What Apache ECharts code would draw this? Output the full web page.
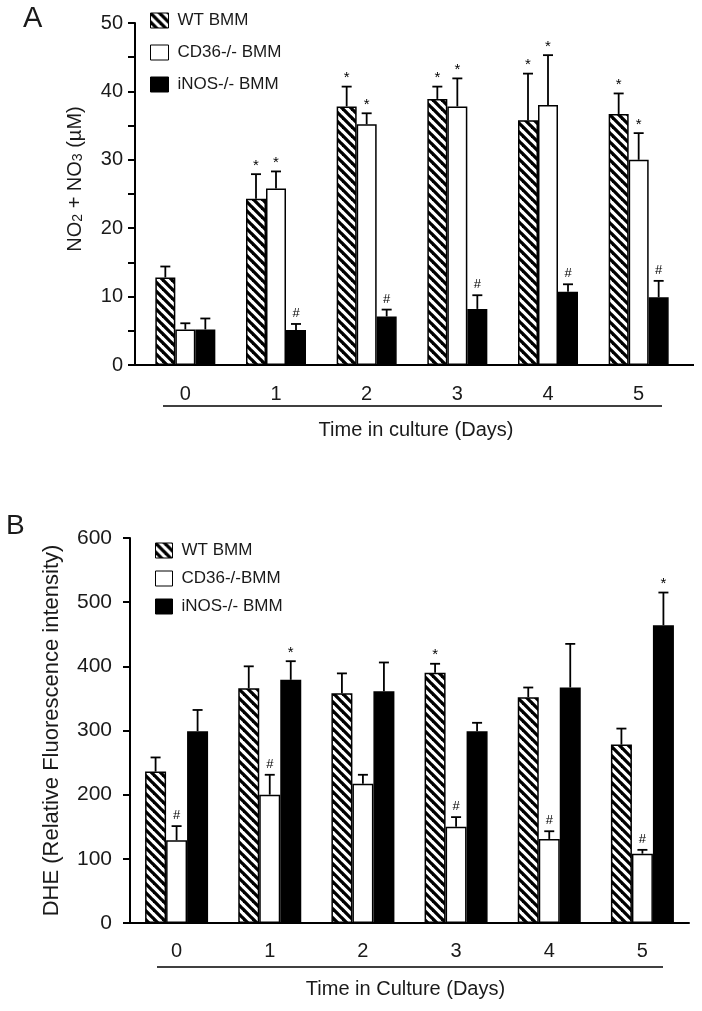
<!DOCTYPE html>
<html>
<head>
<meta charset="utf-8">
<script src="https://cdn.jsdelivr.net/npm/echarts@6/dist/echarts.min.js"></script>
<style>
  html, body { margin: 0; padding: 0; background: #fff; }
  #chart { width: 702px; height: 1011px; }
</style>
</head>
<body>
<div id="chart"></div>
<script>
// ---------- DATA ----------
const categories = ['0', '1', '2', '3', '4', '5'];
const seriesNamesA = ['WT BMM', 'CD36-/- BMM', 'iNOS-/- BMM'];
const seriesNamesB = ['WT BMM', 'CD36-/-BMM', 'iNOS-/- BMM'];

// Panel A: NO2 + NO3 (µM)
const A_wt = [12.8, 24.3, 37.8, 38.9, 35.8, 36.7];
const A_wt_err = [1.6, 3.6, 2.9, 1.8, 6.8, 3.0];
const A_cd36 = [5.2, 25.8, 35.2, 37.8, 38.0, 30.0];
const A_cd36_err = [0.9, 2.5, 1.6, 4.1, 7.3, 3.9];
const A_inos = [5.2, 5.1, 7.1, 8.2, 10.7, 9.9];
const A_inos_err = [1.6, 0.9, 1.0, 2.0, 1.1, 2.4];
const A_wt_sig = ['', '*', '*', '*', '*', '*'];
const A_cd36_sig = ['', '*', '*', '*', '*', '*'];
const A_inos_sig = ['', '#', '#', '#', '#', '#'];
const A_ticks = [0, 10, 20, 30, 40, 50];

// Panel B: DHE (Relative Fluorescence intensity)
const B_wt = [236, 366, 358, 390, 352, 278];
const B_wt_err = [22, 34, 31, 14, 15, 25];
const B_cd36 = [129, 200, 217, 150, 131, 108];
const B_cd36_err = [22, 31, 14, 15, 12, 6];
const B_inos = [299, 379, 361, 299, 367, 464];
const B_inos_err = [33, 29, 45, 13, 68, 51];
const B_wt_sig = ['', '', '', '*', '', ''];
const B_cd36_sig = ['#', '#', '', '#', '#', '#'];
const B_inos_sig = ['', '*', '', '', '', '*'];
const B_ticks = [0, 100, 200, 300, 400, 500, 600];

// ---------- STYLE / LAYOUT ----------
const FONT = '"Liberation Sans", Arial, sans-serif';
const TXT = '#1a1a1a';
const GA = { left: 140, top: 23, width: 544, height: 342 };
const GB = { left: 130, top: 538, width: 559, height: 385 };
const BW_A = 20, BW_B = 21;

function hatch() {
  const s = 9;
  const c = document.createElement('canvas');
  c.width = s; c.height = s;
  const ctx = c.getContext('2d');
  ctx.fillStyle = '#fff';
  ctx.fillRect(0, 0, s, s);
  ctx.strokeStyle = '#000';
  ctx.lineWidth = 3.3;
  for (let k = -1; k <= 1; k++) {
    ctx.beginPath();
    ctx.moveTo(k * s - 2, -2);
    ctx.lineTo(k * s + s + 2, s + 2);
    ctx.stroke();
  }
  return { image: c, repeat: 'repeat' };
}
const HATCH = hatch();
const fills = [HATCH, '#ffffff', '#000000'];

function barSeries(name, data, xi, bw, fill) {
  return {
    type: 'bar', name: name, xAxisIndex: xi, yAxisIndex: xi,
    data: data, barWidth: bw, barGap: '0%',
    itemStyle: { color: fill, borderColor: '#000', borderWidth: 1.5 },
    emphasis: { disabled: true }, z: 2
  };
}

function errSeries(vals, errs, sigs, xi, pos, bw) {
  return {
    type: 'custom', xAxisIndex: xi, yAxisIndex: xi, z: 3,
    data: vals.map((v, i) => [i, v, errs[i]]),
    renderItem: function (params, api) {
      const cat = api.value(0), v = api.value(1), e = api.value(2);
      const base = api.coord([cat, v]);
      const top = api.coord([cat, v + e]);
      const x = base[0] + (pos - 1) * bw;
      const children = [
        { type: 'line', shape: { x1: x, y1: base[1], x2: x, y2: top[1] },
          style: { stroke: '#000', lineWidth: 1.8 } },
        { type: 'line', shape: { x1: x - 5, y1: top[1], x2: x + 5, y2: top[1] },
          style: { stroke: '#000', lineWidth: 1.8 } }
      ];
      const s = sigs[params.dataIndex];
      if (s) {
        children.push({ type: 'text', x: x, y: top[1] - (s === '#' ? 4 : 1),
          style: { text: s, fill: '#000', font: (s === '#' ? '13px ' : '15px ') + FONT,
            textAlign: 'center', textVerticalAlign: 'bottom' } });
      }
      return { type: 'group', children: children };
    }
  };
}

const chart = echarts.init(document.getElementById('chart'), null, { renderer: 'canvas' });

const option = {
  backgroundColor: '#fff',
  animation: false,
  textStyle: { fontFamily: FONT, color: TXT },
  grid: [
    { left: GA.left, top: GA.top, width: GA.width, height: GA.height },
    { left: GB.left, top: GB.top, width: GB.width, height: GB.height }
  ],
  legend: [
    { data: seriesNamesA, orient: 'vertical', left: 150, top: 12, padding: 0, itemWidth: 18, itemHeight: 15,
      itemGap: 15, icon: 'rect', selectedMode: false,
      itemStyle: { borderColor: '#000', borderWidth: 1 },
      textStyle: { fontSize: 17, color: TXT, fontFamily: FONT, padding: [0, 0, 0, 4] } },
    { data: seriesNamesB, orient: 'vertical', left: 155, top: 542, padding: 0, itemWidth: 17, itemHeight: 15,
      itemGap: 11, icon: 'rect', selectedMode: false,
      itemStyle: { borderColor: '#000', borderWidth: 1 },
      textStyle: { fontSize: 17, color: TXT, fontFamily: FONT, padding: [0, 0, 0, 4] } }
  ],
  xAxis: [
    { type: 'category', gridIndex: 0, data: categories,
      axisLine: { lineStyle: { color: '#000', width: 2 } }, axisTick: { show: false },
      axisLabel: { fontSize: 20, color: TXT, margin: 19, fontFamily: FONT },
      name: 'Time in culture (Days)', nameLocation: 'middle', nameGap: 55,
      nameTextStyle: { fontSize: 20, color: TXT, fontFamily: FONT, padding: [0, 0, 0, 8] } },
    { type: 'category', gridIndex: 1, data: categories,
      axisLine: { lineStyle: { color: '#000', width: 2 } }, axisTick: { show: false },
      axisLabel: { fontSize: 20, color: TXT, margin: 18, fontFamily: FONT },
      name: 'Time in Culture (Days)', nameLocation: 'middle', nameGap: 56,
      nameTextStyle: { fontSize: 20, color: TXT, fontFamily: FONT, padding: [0, 8, 0, 0] } }
  ],
  yAxis: [
    { type: 'value', gridIndex: 0, min: 0, max: 50, interval: 5, offset: 5,
      axisLine: { show: true, lineStyle: { color: '#000', width: 2 } },
      axisTick: { show: true, length: 7, lineStyle: { color: '#000', width: 2 } },
      splitLine: { show: false },
      axisLabel: { fontSize: 20, color: TXT, margin: 12, fontFamily: FONT,
        formatter: v => (A_ticks.indexOf(v) >= 0 ? String(v) : '') },
      name: '{a|NO}{s|2}{a| + NO}{s|3}{a| (µM)}', nameLocation: 'middle', nameGap: 50,
      nameTextStyle: { padding: [0, 0, 0, 30],
        rich: {
          a: { fontSize: 20, color: TXT, fontFamily: FONT, lineHeight: 20, verticalAlign: 'top' },
          s: { fontSize: 14, color: TXT, fontFamily: FONT, lineHeight: 14, verticalAlign: 'bottom', padding: [9, 0, 0, 0] }
        } } },
    { type: 'value', gridIndex: 1, min: 0, max: 600, interval: 100,
      axisLine: { show: true, lineStyle: { color: '#000', width: 2 } },
      axisTick: { show: true, length: 7, lineStyle: { color: '#000', width: 2 } },
      splitLine: { show: false },
      axisLabel: { fontSize: 21, color: TXT, margin: 18, fontFamily: FONT,
        formatter: v => (B_ticks.indexOf(v) >= 0 ? String(v) : '') },
      name: 'DHE (Relative Fluorescence intensity)', nameLocation: 'middle', nameGap: 67,
      nameTextStyle: { fontSize: 22, color: TXT, fontFamily: FONT } }
  ],
  graphic: [
    { type: 'text', left: 23, top: 4, style: { text: 'A', font: '29px ' + FONT, fill: TXT } },
    { type: 'text', left: 6, top: 512, style: { text: 'B', font: '28px ' + FONT, fill: TXT } },
    // baseline of panel A extends beyond the plot band
    { type: 'line', shape: { x1: GA.left - 5, y1: GA.top + GA.height, x2: 694, y2: GA.top + GA.height },
      style: { stroke: '#000', lineWidth: 2 }, z: 10 },
    // bracket lines under the day labels
    { type: 'line', shape: { x1: 163, y1: 406, x2: 662, y2: 406 }, style: { stroke: '#000', lineWidth: 1.5 } },
    { type: 'line', shape: { x1: 157, y1: 967, x2: 663, y2: 967 }, style: { stroke: '#000', lineWidth: 1.5 } }
  ],
  series: [
    barSeries(seriesNamesA[0], A_wt, 0, BW_A, fills[0]),
    barSeries(seriesNamesA[1], A_cd36, 0, BW_A, fills[1]),
    barSeries(seriesNamesA[2], A_inos, 0, BW_A, fills[2]),
    errSeries(A_wt, A_wt_err, A_wt_sig, 0, 0, BW_A),
    errSeries(A_cd36, A_cd36_err, A_cd36_sig, 0, 1, BW_A),
    errSeries(A_inos, A_inos_err, A_inos_sig, 0, 2, BW_A),
    barSeries(seriesNamesB[0], B_wt, 1, BW_B, fills[0]),
    barSeries(seriesNamesB[1], B_cd36, 1, BW_B, fills[1]),
    barSeries(seriesNamesB[2], B_inos, 1, BW_B, fills[2]),
    errSeries(B_wt, B_wt_err, B_wt_sig, 1, 0, BW_B),
    errSeries(B_cd36, B_cd36_err, B_cd36_sig, 1, 1, BW_B),
    errSeries(B_inos, B_inos_err, B_inos_sig, 1, 2, BW_B)
  ]
};
chart.setOption(option);
</script>
</body>
</html>
